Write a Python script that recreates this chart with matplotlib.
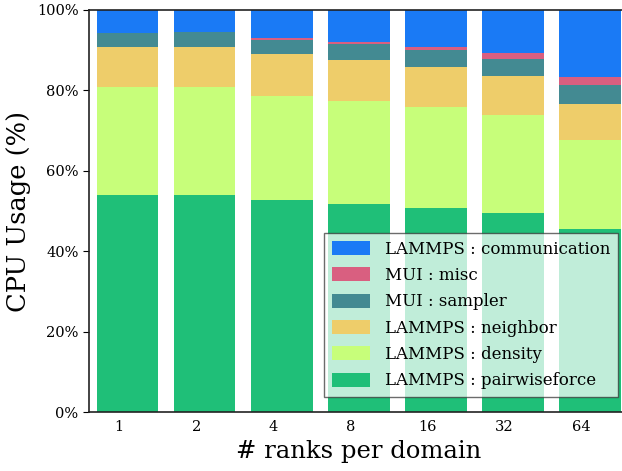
import numpy as np
import matplotlib
matplotlib.use("Agg")
import matplotlib.pyplot as plt
from matplotlib.ticker import PercentFormatter

# ── Data (percent of CPU time per component) ──────────────────────────────────
ranks = ["1", "2", "4", "8", "16", "32", "64"]

pairwiseforce = [54.0, 54.0, 52.7, 51.7, 50.7, 49.5, 45.5]
density       = [26.8, 26.8, 25.9, 25.7, 25.2, 24.4, 22.2]
neighbor      = [10.0, 10.0, 10.5, 10.2,  9.9,  9.7,  8.9]
sampler       = [ 3.5,  3.7,  3.4,  3.9,  4.2,  4.2,  4.7]
misc          = [ 0.0,  0.0,  0.5,  0.5,  0.8,  1.5,  2.0]
communication = [ 5.7,  5.5,  7.0,  8.0,  9.2, 10.7, 16.7]

series = [
    ("LAMMPS : pairwiseforce", pairwiseforce, "#1fbf78"),
    ("LAMMPS : density",       density,       "#c7fe7a"),
    ("LAMMPS : neighbor",      neighbor,      "#eecd6a"),
    ("MUI : sampler",          sampler,       "#438a92"),
    ("MUI : misc",             misc,          "#d95f80"),
    ("LAMMPS : communication", communication, "#1a7af5"),
]

plt.rcParams["font.family"] = ["DejaVu Serif"]

fig = plt.figure(figsize=(6.22, 4.71), dpi=100)
# right spine sits just past the figure edge, as in the original
ax = fig.add_axes([0.143, 0.125, 0.868, 0.854])

x = np.arange(len(ranks))
bottom = np.zeros(len(ranks))
for label, vals, color in series:
    ax.bar(x, vals, width=0.8, bottom=bottom, color=color, label=label)
    bottom += np.array(vals)

ax.set_xlim(-0.5, 6.5)
ax.set_ylim(0, 100)
ax.yaxis.set_major_formatter(PercentFormatter(decimals=0))
ax.set_yticks([0, 20, 40, 60, 80, 100])
ax.set_xticks(x - 0.11)
ax.set_xticklabels(ranks)
ax.tick_params(axis="x", length=0, labelsize=10.5, pad=6)
ax.tick_params(axis="y", length=4, labelsize=10.5)
for sp in ax.spines.values():
    sp.set_linewidth(1.2)
    sp.set_color("#222222")

ax.set_xlabel("# ranks per domain", fontsize=17.5)
ax.set_ylabel("CPU Usage (%)", fontsize=18.5)

handles, labels = ax.get_legend_handles_labels()
leg = ax.legend(handles[::-1], labels[::-1], loc="lower right",
                bbox_to_anchor=(0.995, 0.017), fontsize=12,
                fancybox=False, framealpha=0.72, edgecolor="#333333",
                handlelength=2.3, handleheight=0.9, borderpad=0.45,
                labelspacing=0.56, handletextpad=0.9)
leg.get_frame().set_linewidth(1.0)

fig.savefig("out.png", dpi=100)
